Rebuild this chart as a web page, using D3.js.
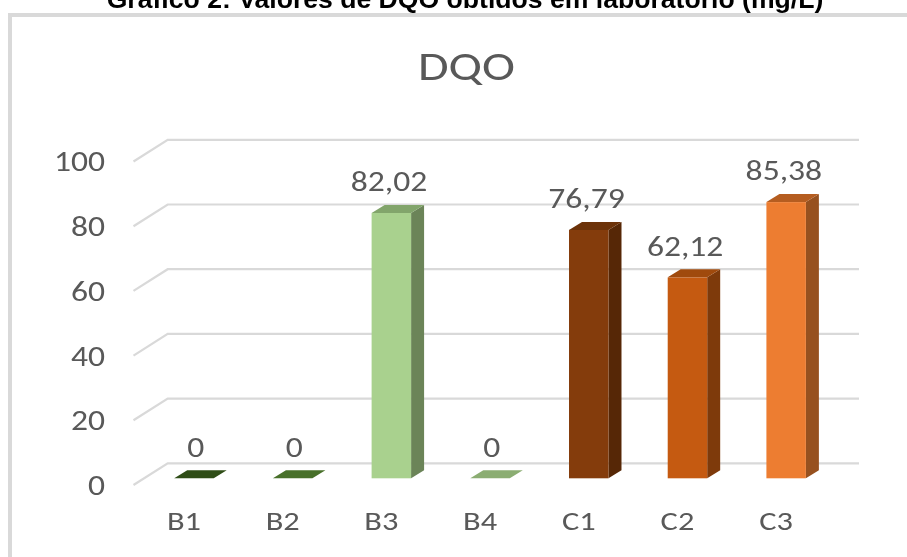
<!DOCTYPE html>
<html><head><meta charset="utf-8">
<script src="https://cdn.jsdelivr.net/npm/d3@7/dist/d3.min.js"></script>
<style>html,body{margin:0;padding:0;background:#fff}svg{display:block;filter:blur(0.45px)}</style></head>
<body><script>
const categories = ["B1","B2","B3","B4","C1","C2","C3"];
const values = [0,0,82.02,0,76.79,62.12,85.38];
const labels = ["0","0","82,02","0","76,79","62,12","85,38"];
const frontColors = ["#2f4d17","#48702a","#a9d18e","#8bad72","#843c0c","#c55a11","#ed7d31"];
const sideColors = ["#233a11","#365420","#6b8458","#6b8458","#562706","#7e3a0b","#97511f"];
const topColors = ["#2a4514","#436726","#82a56b","#82a56b","#6c3209","#a04a0d","#b55d20"];
const yTicks = [0,20,40,60,80,100];
const chartTitle = "DQO";
const heading = "Gráfico 2: Valores de DQO obtidos em laboratório (mg/L)";

const W=907,H=557,DX=13,DY=8,SX=1.2;
const svg=d3.select("body").append("svg").attr("width",W).attr("height",H);
const font="Carlito, 'Open Sans', 'Noto Sans', sans-serif";
const grey="#595959";
svg.append("rect").attr("x",10).attr("y",15).attr("width",W+20).attr("height",H+20)
  .attr("fill","#fff").attr("stroke","#d9d9d9").attr("stroke-width",4);
svg.append("text").attr("x",465).attr("y",8).attr("text-anchor","middle")
  .attr("font-family","'Liberation Sans',Arial,sans-serif").attr("font-weight","bold")
  .attr("font-size",26.6).attr("fill","#000").text(heading);

function stretched(sel,px,py,size,anchor,str){
  return sel.append("text").attr("transform",`translate(${px},${py}) scale(${SX},1)`)
    .attr("text-anchor",anchor).attr("font-family",font).attr("font-size",size)
    .attr("fill",grey).text(str);
}
stretched(svg,466.5,80,41.5,"middle",chartTitle);

const y=d3.scaleLinear().domain([0,100]).range([478.3,154.8]);
const x=d3.scaleBand().domain(categories).range([144.6,835.5]).paddingInner(0.6).paddingOuter(0.3);
const gx=167.7, gxEnd=859, fx=133.5, gridOff=-15;

const grid=svg.append("g").attr("stroke","#d9d9d9").attr("stroke-width",2.2).attr("fill","none");
yTicks.forEach(t=>{
  const yb=y(t)+gridOff;
  grid.append("path").attr("d",`M${fx},${yb+21.7}L${gx},${yb}L${gxEnd},${yb}`);
});
yTicks.forEach(t=>stretched(svg,105,y(t)+16.6,28,"end",t));

const g=svg.selectAll("g.bar").data(categories).join("g").attr("class","bar");
g.each(function(c,i){
  const s=d3.select(this),x0=x(c),w=x.bandwidth(),yt=y(values[i]),yb=y(0);
  if(values[i]>0){
    s.append("path").attr("fill",sideColors[i])
      .attr("d",`M${x0+w},${yt}L${x0+w+DX},${yt-DY}L${x0+w+DX},${yb-DY}L${x0+w},${yb}Z`);
    s.append("rect").attr("x",x0).attr("y",yt).attr("width",w).attr("height",yb-yt).attr("fill",frontColors[i]);
    s.append("path").attr("fill",topColors[i])
      .attr("d",`M${x0},${yt}L${x0+DX},${yt-DY}L${x0+w+DX},${yt-DY}L${x0+w},${yt}Z`);
  } else {
    s.append("path").attr("fill",frontColors[i])
      .attr("d",`M${x0},${yt}L${x0+DX},${yt-DY}L${x0+w+DX},${yt-DY}L${x0+w},${yt}Z`);
  }
  stretched(s,x0+w/2+(values[i]>0?-2.3:1.7),yt-21.6,28,"middle",labels[i]);
  stretched(s,x0+w/2-10,530,27,"middle",c);
});
</script></body></html>
